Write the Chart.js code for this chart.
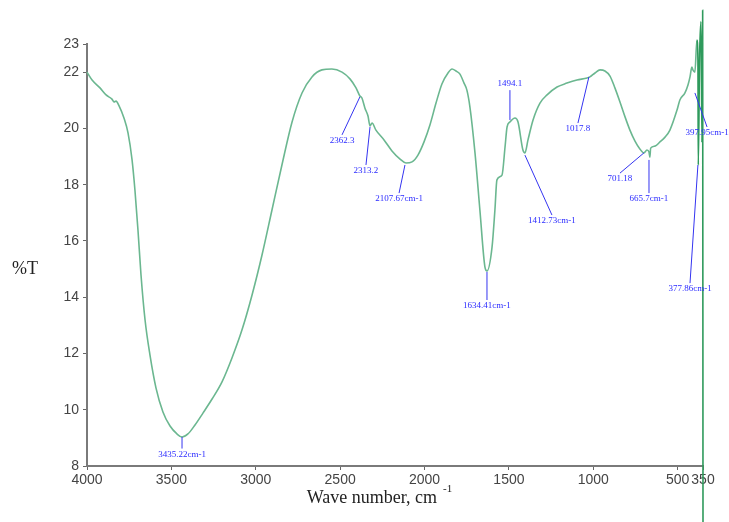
<!DOCTYPE html>
<html>
<head>
<meta charset="utf-8">
<script src="https://cdn.jsdelivr.net/npm/chart.js@4.4.1/dist/chart.umd.min.js"></script>
<style>
  html, body { margin: 0; padding: 0; background: #fff; }
  #wrap { width: 729px; height: 522px; }
</style>
</head>
<body>
<div id="wrap"><canvas id="chart" width="729" height="522"></canvas></div>
<script>
// spectrum (wavenumber cm-1, %T)
const wavenumbers = [4000, 3970, 3923, 3887, 3852, 3840, 3828, 3810, 3781, 3757, 3733, 3716, 3698, 3680, 3656, 3627, 3591, 3550, 3508, 3467, 3437, 3402, 3360, 3313, 3259, 3200, 3141, 3082, 3022, 2963, 2904, 2845, 2785, 2726, 2667, 2608, 2549, 2489, 2442, 2406, 2383, 2371, 2353, 2335, 2323, 2311, 2288, 2240, 2193, 2145, 2110, 2074, 2039, 2003, 1968, 1932, 1897, 1861, 1837, 1814, 1790, 1766, 1749, 1731, 1701, 1672, 1642, 1630, 1600, 1583, 1571, 1541, 1523, 1511, 1494, 1464, 1446, 1417, 1405, 1387, 1357, 1316, 1274, 1215, 1156, 1097, 1037, 1020, 990, 960, 931, 901, 872, 842, 812, 783, 753, 724, 700, 682, 670, 665, 660, 635, 605, 575, 546, 504, 487, 457, 439, 427, 416, 410, 398, 386, 380, 378, 370, 362, 356, 352, 350];
const transmittance = [22.0, 21.72, 21.44, 21.19, 21.04, 20.94, 20.97, 20.80, 20.37, 19.84, 18.88, 17.81, 16.39, 14.79, 13.19, 11.95, 10.77, 9.92, 9.42, 9.14, 9.03, 9.14, 9.46, 9.88, 10.38, 10.99, 11.84, 12.83, 14.08, 15.50, 17.10, 18.70, 20.23, 21.26, 21.83, 22.08, 22.11, 22.0, 21.76, 21.44, 21.15, 21.08, 20.72, 20.44, 20.09, 20.19, 19.94, 19.59, 19.20, 18.91, 18.77, 18.81, 19.05, 19.52, 20.12, 20.90, 21.58, 21.97, 22.11, 22.04, 21.93, 21.61, 21.36, 20.76, 19.13, 17.10, 15.07, 14.93, 15.78, 17.10, 18.17, 18.34, 19.34, 20.05, 20.23, 20.37, 20.23, 19.23, 19.13, 19.59, 20.30, 20.90, 21.19, 21.47, 21.61, 21.72, 21.79, 21.83, 21.97, 22.08, 22.04, 21.86, 21.44, 20.94, 20.41, 19.94, 19.55, 19.27, 19.13, 19.23, 19.16, 18.98, 19.30, 19.37, 19.52, 19.69, 19.94, 20.65, 21.01, 21.26, 21.54, 21.83, 22.18, 22.08, 22.0, 23.14, 22.43, 18.7, 22.6, 23.8, 19.5, 24.2, 6.0];

const xTicks = [4000, 3500, 3000, 2500, 2000, 1500, 1000, 500, 350];
const yTicks = [8, 10, 12, 14, 16, 18, 20, 22, 23];

// peak labels: where the leader starts (on the curve) and where the text sits
const peakText = ["3435.22cm-1", "2362.3", "2313.2", "2107.67cm-1", "1634.41cm-1", "1494.1", "1412.73cm-1", "1017.8", "701.18", "665.7cm-1", "397.95cm-1", "377.86cm-1"];
const peakX = [3437, 2383, 2323, 2116, 1630, 1494, 1405, 1026, 700, 670, 398, 380];
const peakY = [9.03, 21.12, 20.05, 18.70, 14.9, 20.3, 19.05, 21.83, 19.13, 18.88, 21.26, 18.70];
const tagX = [3437, 2489, 2347, 2151, 1630, 1494, 1245, 1091, 842, 670, 326, 427];
const tagY = [8.62, 19.77, 18.70, 17.70, 13.9, 21.36, 16.92, 20.19, 18.41, 17.70, 20.05, 14.5];

const canvasRef = document.getElementById("chart");

const peakLabels = {
  id: "peakLabels",
  afterDatasetsDraw(chart) {
    const { ctx, scales: { x, y } } = chart;
    ctx.save();
    ctx.strokeStyle = "#3434f0";
    ctx.fillStyle = "#2a2aff";
    ctx.lineWidth = 1;
    ctx.font = '9px "Liberation Serif"';
    ctx.textAlign = "center";
    ctx.textBaseline = "middle";
    peakText.forEach(function (t, i) {
      const x0 = x.getPixelForValue(peakX[i]);
      const y0 = y.getPixelForValue(peakY[i]);
      const x1 = x.getPixelForValue(tagX[i]);
      const y1 = y.getPixelForValue(tagY[i]);
      ctx.beginPath();
      ctx.moveTo(x0, y0);
      ctx.lineTo(x1, y1);
      ctx.stroke();
      ctx.fillText(t, x1, y1 + (y1 > y0 ? 6 : -6));
    });
    ctx.restore();
  },
  afterDraw(chart) {
    const { ctx, chartArea } = chart;
    ctx.save();
    ctx.fillStyle = "#222";
    ctx.textBaseline = "middle";
    // %T sits horizontal at the left
    ctx.font = '18px "Liberation Serif"';
    ctx.textAlign = "left";
    ctx.fillText("%T", 12, 269);
    // x title with superscript
    const cx = (chartArea.left + chartArea.right) / 2;
    ctx.font = '18px "Liberation Serif"';
    ctx.textAlign = "right";
    ctx.fillText("Wave number, cm", cx + 42, 498);
    ctx.font = '11px "Liberation Serif"';
    ctx.textAlign = "left";
    ctx.fillText("-1", cx + 48, 489);
    ctx.restore();
  },
};

let myChart = new Chart(canvasRef, {
  type: "line",
  data: {
    datasets: [
      {
        label: "%T",
        data: wavenumbers.map(function (w, i) { return { x: w, y: transmittance[i] }; }),
        borderColor: "#6bb790",
        borderWidth: 1.6,
        pointRadius: 0,
        cubicInterpolationMode: "monotone",
        clip: false,
        segment: {
          borderColor: function (c) { return c.p0.parsed.x < 392 ? "#2f9a5c" : undefined; },
        },
      },
    ],
  },
  options: {
    responsive: false,
    animation: false,
    layout: { padding: { left: 0, top: 44, right: 26, bottom: 0 } },
    plugins: { legend: { display: false }, tooltip: { enabled: false } },
    scales: {
      x: {
        type: "linear",
        reverse: true,
        min: 350,
        max: 4000,
        afterBuildTicks: function (s) { s.ticks = xTicks.map(function (v) { return { value: v }; }); },
        afterFit: function (s) { s.height = 56; },
        grid: { drawOnChartArea: false, drawTicks: true, tickLength: 4, color: "#666" },
        border: { color: "#7a7a7a", width: 2 },
        ticks: {
          color: "#444", padding: 2, autoSkip: false, maxRotation: 0,
          font: { family: "Liberation Sans", size: 14 },
          callback: function (v) { return String(v); },
        },
      },
      y: {
        min: 8,
        max: 23,
        afterBuildTicks: function (s) { s.ticks = yTicks.map(function (v) { return { value: v }; }); },
        afterFit: function (s) { s.width = 87; },
        grid: { drawOnChartArea: false, drawTicks: true, tickLength: 4, color: "#666" },
        border: { color: "#7a7a7a", width: 2 },
        ticks: {
          color: "#444", padding: 4, autoSkip: false,
          font: { family: "Liberation Sans", size: 14 },
          callback: function (v) { return String(v); },
        },
      },
    },
  },
  plugins: [peakLabels],
});
</script>
</body>
</html>
